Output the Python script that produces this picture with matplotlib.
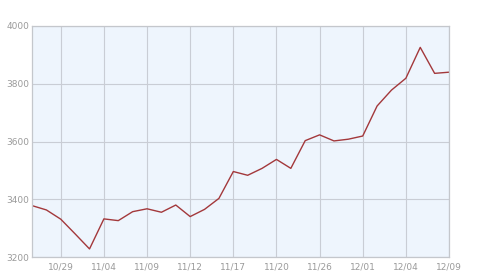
import matplotlib
matplotlib.use("Agg")
import matplotlib.pyplot as plt

values = [3378, 3363, 3331, 3280, 3228, 3332, 3326, 3357, 3367, 3355,
          3380, 3340, 3365, 3403, 3496, 3483, 3507, 3538, 3507, 3603,
          3623, 3602, 3608, 3619, 3723, 3778, 3819, 3926, 3836, 3840]
tick_positions = [2, 5, 8, 11, 14, 17, 20, 23, 26, 29]
tick_labels = ["10/29", "11/04", "11/09", "11/12", "11/17", "11/20",
               "11/26", "12/01", "12/04", "12/09"]
y_ticks = [3200, 3400, 3600, 3800, 4000]

fig = plt.figure(figsize=(5, 2.78), dpi=100)
ax = fig.add_axes([0.064, 0.0755, 0.834, 0.831])
ax.set_facecolor("#eef5fd")
ax.plot(range(len(values)), values, color="#a3383b", linewidth=1.0)
ax.set_xlim(0, len(values) - 1)
ax.set_ylim(3200, 4000)
ax.set_xticks(tick_positions)
ax.set_xticklabels(tick_labels)
ax.set_yticks(y_ticks)
ax.grid(True, color="#c9cdd5", linewidth=0.8)
ax.set_axisbelow(True)
for s in ax.spines.values():
    s.set_color("#c4c7cc")
    s.set_linewidth(0.9)
ax.tick_params(length=0, labelsize=6.5, colors="#9a9a9a")
ax.tick_params(axis="y", pad=2)
ax.tick_params(axis="x", pad=4)
fig.savefig("out.png", dpi=100)
